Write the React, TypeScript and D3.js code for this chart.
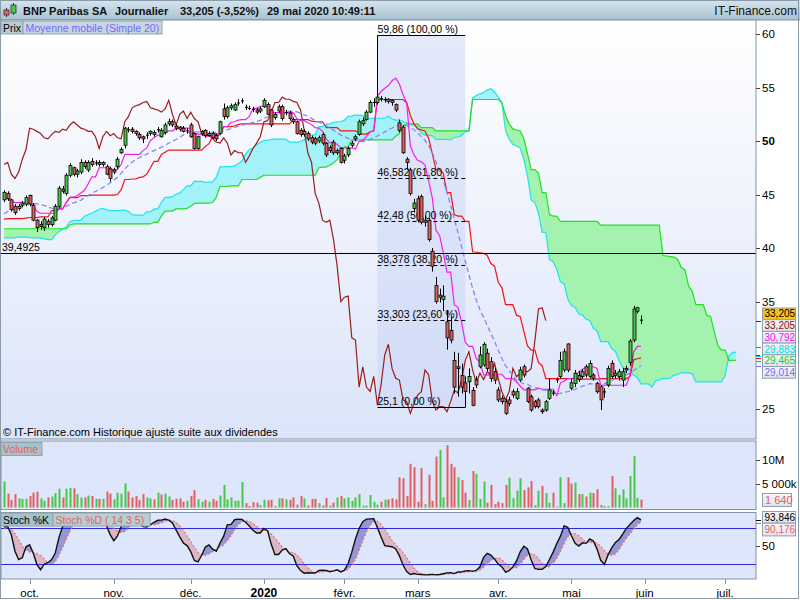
import React from "react";
import * as d3 from "d3";

// sessions before 20 sept. 2019, only used to warm up Ichimoku / SMA / stochastic : [high, low, close]
const warmup: number[][] = [
  [42.0, 41.2, 41.6], [42.1, 41.3, 41.9], [42.4, 41.6, 42.2], [42.6, 41.9, 42.0], [42.3, 41.4, 41.6],
  [41.9, 41.0, 41.3], [41.7, 40.8, 41.5], [42.2, 41.3, 42.0], [42.5, 41.7, 42.3], [42.7, 42.0, 42.1],
  [42.3, 41.5, 41.7], [42.0, 41.2, 41.8], [42.4, 41.6, 42.2], [42.8, 42.0, 42.6], [43.1, 42.3, 42.9],
  [43.2, 42.5, 42.7], [42.9, 42.2, 42.4], [42.7, 41.9, 42.5], [43.0, 42.2, 42.8], [43.4, 42.6, 43.2],
  [43.6, 42.9, 43.1], [43.3, 42.5, 42.8], [43.0, 42.3, 42.6], [43.2, 42.4, 43.0], [43.5, 42.8, 43.3],
  [43.8, 43.0, 43.6], [44.0, 43.2, 43.5], [43.7, 42.9, 43.1], [43.4, 42.6, 43.2], [43.9, 43.0, 43.7],
  [44.2, 43.4, 44.0], [44.3, 43.6, 43.8], [44.1, 43.3, 43.9], [44.6, 43.7, 44.3], [44.4, 43.5, 43.7],
  [43.9, 43.0, 43.2], [43.5, 42.6, 42.9], [43.2, 42.1, 42.4], [42.7, 41.7, 41.9], [42.3, 41.3, 42.0],
  [42.1, 40.9, 41.2], [41.6, 40.5, 40.8], [41.3, 40.2, 41.0], [41.5, 40.4, 40.6], [41.0, 39.8, 40.1],
  [40.6, 39.5, 39.9], [40.5, 39.4, 40.3], [41.0, 40.0, 40.8], [41.2, 40.2, 40.4], [40.8, 39.7, 39.9],
  [40.3, 39.2, 39.5], [39.9, 39.0, 39.6], [40.4, 39.4, 40.2], [40.8, 39.9, 40.5], [41.0, 40.1, 40.6],
  [41.2, 40.3, 41.0], [41.5, 40.6, 40.8], [41.1, 40.1, 40.4], [40.9, 40.0, 40.7], [41.0, 40.1, 40.7],
  [41.3, 40.2, 41.0], [41.5, 40.3, 40.9], [41.4, 40.2, 41.2], [41.7, 40.4, 41.5], [41.8, 40.6, 41.4],
  [42.0, 40.3, 41.9], [42.9, 41.9, 42.7], [43.5, 42.5, 43.3], [43.9, 43.0, 43.6], [44.3, 43.3, 44.0],
  [45.3, 43.6, 45.0], [45.5, 44.5, 45.2], [45.4, 44.3, 44.6], [45.0, 44.0, 44.3], [44.8, 43.8, 44.6],
  [44.9, 44.1, 44.4], [44.7, 43.9, 44.1], [44.6, 43.8, 44.4],
];

// visible sessions, 20 sept. 2019 -> 29 mai 2020 : [open, high, low, close]
const candles: number[][] = [
  [44.5, 45.4, 44.3, 45.2], [45.1, 45.3, 44.4, 44.6], [44.5, 44.6, 43.4, 43.6], [43.9, 44.1, 43.1, 43.3],
  [43.7, 44.1, 43.5, 43.9], [44.0, 44.4, 43.8, 44.2], [44.1, 44.9, 43.9, 44.7], [44.9, 45.0, 43.9, 44.1],
  [44.0, 44.2, 42.5, 42.6], [42.6, 42.7, 41.5, 41.9], [42.0, 42.5, 41.7, 42.2], [41.9, 42.9, 41.6, 42.7],
  [42.5, 42.7, 41.9, 42.2], [42.2, 43.0, 42.0, 42.8], [42.6, 44.1, 42.5, 43.9], [43.9, 45.8, 43.7, 45.6],
  [45.5, 45.8, 45.1, 45.3], [45.1, 47.0, 44.9, 46.8], [46.8, 47.9, 46.6, 47.7], [47.5, 47.6, 46.7, 46.9],
  [46.9, 47.4, 46.6, 47.2], [47.1, 48.3, 46.9, 48.0], [48.0, 48.2, 47.4, 47.6], [47.3, 48.2, 47.1, 48.0],
  [48.1, 48.4, 47.6, 47.8], [47.9, 48.2, 47.7, 48.0], [48.0, 48.2, 47.6, 47.8], [47.8, 48.1, 47.6, 48.0],
  [47.6, 47.8, 46.8, 46.9], [47.4, 47.6, 46.2, 46.5], [47.3, 47.5, 46.9, 47.1], [47.6, 48.5, 47.4, 48.3],
  [48.9, 49.4, 48.8, 49.2], [49.6, 51.3, 49.3, 51.2], [51.0, 51.3, 50.8, 51.1], [51.1, 51.3, 50.7, 50.9],
  [50.9, 51.0, 50.5, 50.7], [50.6, 50.8, 50.1, 50.3], [50.4, 50.5, 49.8, 50.2], [50.5, 50.8, 50.2, 50.6],
  [50.7, 51.0, 50.5, 50.9], [50.6, 51.0, 50.4, 50.8], [51.0, 51.3, 50.8, 51.1], [50.4, 51.2, 50.3, 51.0],
  [50.8, 51.7, 50.6, 51.5], [51.6, 52.1, 51.4, 51.8], [51.8, 52.0, 51.3, 51.5], [51.4, 51.6, 51.0, 51.2],
  [51.3, 51.4, 50.9, 51.1], [51.2, 51.4, 50.8, 50.9], [51.0, 51.2, 50.7, 50.9], [51.5, 51.7, 50.3, 50.4],
  [50.7, 50.8, 49.2, 49.3], [49.3, 50.5, 49.2, 50.4], [50.7, 51.0, 50.5, 50.9], [51.0, 51.1, 50.3, 50.5],
  [50.5, 50.9, 50.4, 50.7], [50.7, 50.9, 50.2, 50.3], [50.5, 50.7, 50.0, 50.2], [50.7, 51.9, 50.6, 51.8],
  [53.0, 53.5, 52.0, 52.3], [52.3, 53.3, 52.1, 53.1], [53.1, 53.5, 52.9, 53.3], [52.9, 53.6, 52.8, 53.4],
  [53.5, 53.9, 53.3, 53.6], [53.8, 54.0, 53.5, 53.7], [53.2, 53.4, 52.9, 53.1], [53.1, 53.3, 52.9, 53.0],
  [53.0, 53.2, 52.7, 52.9], [52.9, 53.1, 52.5, 52.7], [52.8, 53.2, 52.6, 53.0], [53.2, 54.0, 53.1, 53.8],
  [53.4, 53.6, 52.4, 52.5], [52.9, 53.0, 51.3, 51.5], [52.2, 52.7, 52.0, 52.5], [53.2, 53.4, 52.6, 52.8],
  [53.2, 53.4, 51.9, 52.1], [52.6, 52.9, 52.4, 52.7], [52.6, 52.8, 51.9, 52.1], [52.0, 52.2, 51.6, 51.8],
  [51.8, 51.9, 50.6, 50.7], [51.0, 51.2, 50.4, 50.6], [50.9, 51.1, 50.4, 50.6], [50.7, 50.9, 50.0, 50.2],
  [50.3, 50.5, 49.7, 49.9], [50.2, 50.4, 49.6, 49.8], [50.0, 50.5, 49.8, 50.3], [50.6, 50.8, 49.6, 49.8],
  [49.8, 49.9, 48.5, 48.7], [49.4, 49.6, 48.9, 49.1], [49.9, 50.1, 48.7, 48.9], [49.1, 49.3, 48.7, 48.9],
  [49.3, 49.4, 47.9, 48.0], [48.2, 48.8, 47.9, 48.6], [48.7, 49.5, 48.5, 49.3], [49.6, 50.0, 49.4, 49.8],
  [50.2, 50.6, 50.0, 50.4], [50.6, 52.0, 50.5, 51.8], [51.6, 52.2, 51.4, 51.9], [52.0, 52.9, 51.9, 52.7],
  [52.7, 53.8, 52.6, 53.6], [53.6, 54.0, 53.2, 53.6], [53.6, 59.86, 53.4, 54.1], [54.0, 54.2, 53.7, 53.9],
  [53.8, 54.1, 53.6, 53.9], [53.9, 54.0, 53.5, 53.7], [53.8, 53.9, 53.3, 53.6], [53.4, 53.5, 52.7, 52.9],
  [51.7, 52.0, 50.8, 51.0], [51.3, 51.5, 48.8, 48.9], [48.3, 48.5, 47.3, 48.0], [47.3, 47.5, 44.9, 45.1],
  [43.7, 44.6, 43.3, 44.2], [44.6, 44.9, 42.4, 42.6], [44.8, 45.0, 42.2, 42.4], [42.4, 43.0, 42.0, 42.6],
  [42.6, 42.8, 40.6, 40.8], [39.7, 40.0, 37.8, 38.3], [36.5, 37.3, 34.8, 35.0], [35.6, 36.2, 34.9, 35.4],
  [35.2, 36.5, 34.1, 35.5], [33.1, 34.2, 30.5, 31.6], [32.3, 33.6, 31.1, 31.4], [29.5, 30.3, 26.4, 27.0],
  [28.75, 30.2, 26.1, 28.9], [28.1, 29.2, 26.4, 27.0], [27.4, 28.0, 25.1, 26.6], [27.5, 28.75, 26.4, 28.0],
  [26.7, 27.0, 25.2, 25.3], [27.66, 28.0, 26.9, 27.2], [28.9, 30.8, 28.75, 30.0], [29.07, 31.2, 28.9, 31.0],
  [30.16, 30.6, 28.5, 28.75], [29.38, 29.8, 27.5, 27.82], [28.44, 28.8, 27.3, 27.66], [26.73, 27.0, 25.6, 25.8],
  [25.95, 26.2, 25.4, 25.64], [25.64, 25.9, 24.4, 24.55], [25.8, 26.1, 25.2, 25.48], [26.57, 26.8, 26.0, 26.26],
  [25.95, 26.9, 25.8, 26.57], [27.66, 28.9, 27.5, 28.6], [28.9, 29.1, 27.9, 28.13], [26.9, 27.0, 25.5, 25.64],
  [26.1, 26.3, 24.7, 24.86], [25.64, 25.8, 25.0, 25.17], [25.8, 26.0, 25.0, 25.17], [24.86, 25.0, 24.5, 24.7],
  [24.86, 25.8, 24.7, 25.64], [25.95, 27.8, 25.8, 26.73], [26.4, 26.7, 26.2, 26.45], [27.66, 27.9, 27.4, 27.7],
  [28.0, 30.3, 27.8, 29.5], [28.6, 30.6, 28.4, 30.3], [31.03, 31.1, 28.4, 28.6], [26.9, 27.8, 26.7, 27.4],
  [27.35, 28.6, 27.0, 28.3], [28.1, 28.5, 27.5, 27.7], [27.98, 28.7, 27.8, 28.44], [28.9, 29.1, 27.9, 28.13],
  [28.0, 29.5, 27.8, 29.2], [28.13, 28.3, 27.6, 27.82], [27.35, 27.5, 26.4, 26.57], [27.04, 27.2, 24.85, 25.8],
  [26.5, 26.9, 26.0, 26.6], [27.2, 29.0, 27.0, 28.75], [29.2, 29.5, 27.8, 27.98], [28.1, 28.6, 27.8, 28.3],
  [27.98, 28.7, 27.6, 28.44], [27.66, 28.8, 27.0, 28.44], [28.6, 29.0, 28.3, 28.75], [29.3, 31.5, 29.0, 31.3],
  [31.4, 34.6, 31.2, 34.3], [34.1, 34.5, 33.9, 34.42], [33.3, 33.7, 32.9, 33.205],
];

// volumes, millions of shares
const volumes: number[] = [
  5.4, 2.9, 1.6, 2.8, 1.9, 1.8, 1.8, 2.4, 3.1, 3.3, 1.9, 1.4, 2.1, 2.3, 3.0, 3.9, 2.1, 3.9, 4.1, 4.0,
  2.8, 2.1, 2.1, 2.5, 2.4, 1.8, 1.8, 1.8, 3.3, 2.9, 1.7, 3.1, 2.9, 5.0, 3.3, 2.1, 2.4, 1.6, 2.8, 2.1,
  1.9, 1.7, 3.1, 2.7, 2.9, 2.3, 1.6, 1.8, 1.9, 1.2, 1.4, 2.4, 3.6, 1.7, 1.2, 1.6, 1.2, 1.8, 1.4, 2.5,
  4.7, 1.7, 2.1, 1.4, 1.4, 5.3, 0.9, 0.3, 1.1, 1.0, 0.5, 1.6, 1.5, 1.6, 0.3, 1.9, 1.9, 1.7, 1.6, 2.1,
  0.6, 2.4, 1.9, 0.4, 1.8, 1.8, 0.9, 0.4, 2.0, 0.4, 1.0, 2.1, 2.4, 1.9, 2.1, 1.4, 2.1, 2.8, 0.4, 0.4,
  2.6, 1.2, 0.6, 1.2, 1.6, 1.7, 1.9, 1.7, 6.3, 6.1, 2.4, 9.1, 8.4, 1.2, 8.2, 0.7, 6.8, 1.4, 10.6, 12.0,
  2.1, 13.0, 9.1, 8.4, 6.3, 5.7, 3.1, 1.6, 7.6, 7.0, 1.8, 5.4, 1.0, 4.7, 0.7, 1.2, 0.9, 4.7, 6.2, 2.0,
  3.5, 6.1, 3.6, 4.2, 5.5, 0.5, 3.5, 4.5, 3.0, 1.0, 3.1, 0.2, 6.3, 0.9, 6.3, 5.0, 5.2, 2.8, 2.8, 2.3,
  3.1, 3.0, 3.8, 0.5, 0.3, 0.3, 6.6, 4.0, 2.6, 3.8, 1.9, 6.6, 10.7, 2.0, 1.64,
];

const monthLabels = ["oct.", "nov.", "déc.", "2020", "févr.", "mars", "avr.", "mai", "juin", "juil."];
const monthStarts = [7, 30, 51, 71, 93, 113, 135, 155, 175, 197];
const priceTicks = [60, 55, 50, 45, 40, 35, 30, 25];

const fibValues = [59.86, 46.582, 42.48, 38.378, 33.303, 25.1];
const fibLabels = ["59,86 (100,00 %)", "46,582 (61,80 %)", "42,48 (50,00 %)", "38,378 (38,20 %)", "33,303 (23,60 %)", "25,1 (0,00 %)"];
const fibFrom = 102;
const fibTo = 126;
const supportLevel = 39.4925;

const lastValues = [33.205, 33.205, 30.792, 29.883, 29.465, 29.014];
const lastTexts = ["33,205", "33,205", "30,792", "29,883", "29,465", "29,014"];
const lastColors = ["#000000", "#8b0f0f", "#ff00ff", "#00dce8", "#22c822", "#6d6dff"];

const FONT = "Liberation Sans, Arial, sans-serif";
const GREEN = "#46c846";
const RED = "#e35f5f";

type HL = { h: number; l: number; c: number };
const series: HL[] = [
  ...warmup.map(d => ({ h: d[0], l: d[1], c: d[2] })),
  ...candles.map(d => ({ h: d[1], l: d[2], c: d[3] })),
];
const off = warmup.length;

function midRange(end: number, n: number) {
  const s = series.slice(Math.max(0, end - n + 1), end + 1);
  return ((d3.max(s, d => d.h) as number) + (d3.min(s, d => d.l) as number)) / 2;
}

const idx = d3.range(candles.length);
const tenkan = idx.map(i => midRange(off + i, 9));
const kijun = idx.map(i => midRange(off + i, 26));
const sma20 = idx.map(i => d3.mean(series.slice(off + i - 19, off + i + 1), d => d.c) as number);
type Cloud = { j: number; a: number; b: number };
const cloud: Cloud[] = d3.range(-26, candles.length).map(s => ({
  j: s + 26,
  a: (midRange(off + s, 9) + midRange(off + s, 26)) / 2,
  b: midRange(off + s, 52),
}));
const chikou = idx.filter(i => i >= 26).map(i => ({ j: i - 26, c: candles[i][3] }));

// Stochastique 14 / 3 / 5
const raw = series.map((d, k) => {
  if (k < 13) return NaN;
  const s = series.slice(k - 13, k + 1);
  const hh = d3.max(s, e => e.h) as number;
  const ll = d3.min(s, e => e.l) as number;
  return (100 * (d.c - ll)) / (hh - ll);
});
const slowK = raw.map((_, k) => (k < 15 ? NaN : (d3.mean(raw.slice(k - 2, k + 1)) as number)));
const slowD = slowK.map((_, k) => (k < 19 ? NaN : (d3.mean(slowK.slice(k - 4, k + 1)) as number)));
type St = { i: number; k: number; d: number };
const stoch: St[] = idx.map(i => ({ i, k: slowK[off + i], d: slowD[off + i] }));

const x = d3.scaleLinear().domain([0, 174]).range([4, 641]);
const yP = d3.scaleLinear().domain([25, 60]).range([408.5, 34]);
const yV = d3.scaleLinear().domain([0, 10]).range([507.5, 459.5]);
const yS = d3.scaleLinear().domain([0, 100]).range([576, 516]);

const MAIN = { x0: 1, x1: 756, y0: 20, y1: 439 };
const VOL = { y0: 441, y1: 509.5 };
const STO = { y0: 512.5, y1: 579 };

export default function App() {
  const areaAB = d3.area<Cloud>().x(d => x(d.j)).y0(d => yP(d.a)).y1(d => yP(d.b));
  const aboveB = d3.area<Cloud>().x(d => x(d.j)).y0(MAIN.y0).y1(d => yP(d.b));
  const belowB = d3.area<Cloud>().x(d => x(d.j)).y0(d => yP(d.b)).y1(MAIN.y1);
  const lineA = d3.line<Cloud>().x(d => x(d.j)).y(d => yP(d.a));
  const lineB = d3.line<Cloud>().x(d => x(d.j)).y(d => yP(d.b));
  const lineIdx = (arr: number[]) => d3.line<number>().x((_, i) => x(i)).y(v => yP(v))(arr) as string;
  const lineChikou = d3.line<{ j: number; c: number }>().x(d => x(d.j)).y(d => yP(d.c));

  const areaKD = d3.area<St>().x(d => x(d.i)).y0(d => yS(d.k)).y1(d => yS(d.d));
  const aboveD = d3.area<St>().x(d => x(d.i)).y0(STO.y0).y1(d => yS(d.d));
  const belowD = d3.area<St>().x(d => x(d.i)).y0(d => yS(d.d)).y1(STO.y1);
  const lineK = d3.line<St>().x(d => x(d.i)).y(d => yS(d.k));
  const lineD = d3.line<St>().x(d => x(d.i)).y(d => yS(d.d));

  const fx0 = x(fibFrom);
  const fx1 = x(fibTo);
  // the value boxes are stacked downward from the close, one row each
  const boxH = 11.7;
  const boxTop = (k: number) => 308 + k * boxH;

  return (
    <svg width={800} height={600} style={{ position: "absolute", left: 0, top: 0 }} fontFamily={FONT}>
      <defs>
        <linearGradient id="hdr" x1="0" y1="0" x2="0" y2="1">
          <stop offset="0" stopColor="#d5e5ee" />
          <stop offset="1" stopColor="#a8c2d1" />
        </linearGradient>
        <linearGradient id="mainBg" x1="0" y1="0" x2="0" y2="1">
          <stop offset="0" stopColor="#ffffff" />
          <stop offset="1" stopColor="#dbe4f9" />
        </linearGradient>
        <linearGradient id="boxBg" x1="0" y1="0" x2="0" y2="1">
          <stop offset="0" stopColor="#f6f7fb" />
          <stop offset="1" stopColor="#dfe2ec" />
        </linearGradient>
        <clipPath id="clipMain">
          <rect x={MAIN.x0} y={MAIN.y0} width={MAIN.x1 - MAIN.x0} height={MAIN.y1 - MAIN.y0} />
        </clipPath>
        <clipPath id="clipAbove"><path d={aboveB(cloud) as string} /></clipPath>
        <clipPath id="clipBelow"><path d={belowB(cloud) as string} /></clipPath>
        <clipPath id="clipKup"><path d={aboveD(stoch) as string} /></clipPath>
        <clipPath id="clipKdn"><path d={belowD(stoch) as string} /></clipPath>
      </defs>

      <rect x={0} y={0} width={800} height={600} fill="#ffffff" />

      {/* header */}
      <rect x={0} y={0} width={800} height={20} fill="url(#hdr)" />
      <line x1={0} x2={800} y1={20} y2={20} stroke="#7f95a3" />
      <g>
        <line x1={6.5} x2={6.5} y1={8} y2={17} stroke="#333" />
        <rect x={4} y={10} width={5} height={5} fill={RED} stroke="#333" strokeWidth={0.8} />
        <line x1={13.5} x2={13.5} y1={3} y2={15} stroke="#333" />
        <rect x={11} y={5} width={5} height={8} fill={GREEN} stroke="#333" strokeWidth={0.8} />
      </g>
      <g fontSize={11} fontWeight="bold" fill="#111">
        <text x={23} y={15}>BNP Paribas SA</text>
        <text x={115} y={15}>Journalier</text>
        <text x={180} y={15}>33,205 (-3,52%)</text>
        <text x={267} y={15}>29 mai 2020 10:49:11</text>
      </g>
      <text x={797} y={15} fontSize={12} textAnchor="end" fill="#111">IT-Finance.com</text>

      {/* main panel */}
      <rect x={MAIN.x0} y={MAIN.y0} width={MAIN.x1 - MAIN.x0} height={MAIN.y1 - MAIN.y0} fill="url(#mainBg)" />
      <g clipPath="url(#clipMain)">
        <rect x={fx0} y={yP(59.86)} width={fx1 - fx0} height={yP(25.1) - yP(59.86)} fill="#c3d1f3" opacity={0.45} />
        <path d={areaAB(cloud) as string} fill="#a3f2f7" clipPath="url(#clipAbove)" />
        <path d={areaAB(cloud) as string} fill="#a3f2ad" clipPath="url(#clipBelow)" />
        <path d={lineA(cloud) as string} fill="none" stroke="#1fe3ee" strokeWidth={1.2} />
        <path d={lineB(cloud) as string} fill="none" stroke="#22e022" strokeWidth={1.2} />
        <path d={lineChikou(chikou) as string} fill="none" stroke="#9a1d1d" strokeWidth={1.2} />
        <path d={lineIdx(kijun)} fill="none" stroke="#f21414" strokeWidth={1.2} />
        <path d={lineIdx(sma20)} fill="none" stroke="#8585f5" strokeWidth={1.3} strokeDasharray="5,3" />
        <path d={lineIdx(tenkan)} fill="none" stroke="#f020f0" strokeWidth={1.2} />

        <line x1={MAIN.x0} x2={MAIN.x1} y1={Math.round(yP(supportLevel)) + 0.5} y2={Math.round(yP(supportLevel)) + 0.5} stroke="#000" />
        <text x={2} y={yP(supportLevel) - 2.5} fontSize={10.5} fill="#000">39,4925</text>

        {fibValues.map((v, k) => {
          const yy = Math.round(yP(v)) + 0.5;
          const solid = k === 0 || k === fibValues.length - 1;
          return (
            <g key={k}>
              <line x1={fx0} x2={fx1} y1={yy} y2={yy} stroke="#000" strokeDasharray={solid ? undefined : "4,3"} />
              <text x={fx0} y={yy - 2.5} fontSize={10.5} fill="#000">{fibLabels[k]}</text>
            </g>
          );
        })}

        {candles.map((d, i) => {
          const cx = Math.round(x(i)) + 0.5;
          const [o, h, l, c] = d;
          const top = yP(Math.max(o, c));
          const bot = yP(Math.min(o, c));
          return (
            <g key={i}>
              <line x1={cx} x2={cx} y1={yP(h)} y2={yP(l)} stroke="#000" />
              {bot - top < 1.3 ? (
                <line x1={cx - 1.5} x2={cx + 1.5} y1={(top + bot) / 2} y2={(top + bot) / 2} stroke="#000" />
              ) : (
                <rect x={cx - 1.5} y={top} width={3} height={bot - top} fill={c >= o ? GREEN : RED} stroke="#000" strokeWidth={0.8} />
              )}
            </g>
          );
        })}
      </g>
      <rect x={MAIN.x0 - 0.5} y={MAIN.y0} width={MAIN.x1 - MAIN.x0 + 0.5} height={MAIN.y1 - MAIN.y0} fill="none" stroke="#7f95a3" />

      {/* legend of the price panel */}
      <rect x={1} y={21} width={22} height={13} fill="#b7cbd3" stroke="#8ea4ae" />
      <text x={3} y={31.5} fontSize={10.5} fill="#000">Prix</text>
      <rect x={23} y={21} width={139} height={13} fill="#c9d6de" stroke="#8ea4ae" />
      <text x={25.5} y={31.5} fontSize={10.5} fill="#6c6cff">Moyenne mobile (Simple 20)</text>
      <text x={3} y={436} fontSize={11} fill="#000">© IT-Finance.com  Historique ajusté suite aux dividendes</text>

      {/* price axis */}
      {priceTicks.map(t => (
        <g key={t}>
          <line x1={756} x2={760} y1={Math.round(yP(t)) + 0.5} y2={Math.round(yP(t)) + 0.5} stroke="#444" />
          {t !== 30 && (
            <text x={762} y={yP(t) + 4} fontSize={11.5} fontWeight={t === 50 ? "bold" : "normal"} fill="#000">{t}</text>
          )}
        </g>
      ))}
      {lastValues.map((v, k) => (
        <line key={"m" + k} x1={756} x2={761} y1={Math.round(yP(v)) + 0.5} y2={Math.round(yP(v)) + 0.5} stroke={lastColors[k]} />
      ))}
      <line x1={756} x2={761} y1={Math.round(yP(kijun[kijun.length - 1])) + 0.5} y2={Math.round(yP(kijun[kijun.length - 1])) + 0.5} stroke="#f21414" />
      {lastTexts.map((t, k) => (
        <g key={"b" + k}>
          <rect x={762.5} y={boxTop(k)} width={33} height={boxH} fill={k === 0 ? "#f7c21a" : "url(#boxBg)"} stroke="#8ea0ad" />
          <text x={764.5} y={boxTop(k) + 9.4} fontSize={10} fill={lastColors[k]}>{t}</text>
        </g>
      ))}

      {/* volume panel */}
      <rect x={1} y={VOL.y0} width={755} height={VOL.y1 - VOL.y0} fill="#dde6fa" stroke="#7f95a3" />
      {volumes.map((v, i) => {
        const up = i === 0 ? candles[0][3] >= candles[0][0] : candles[i][3] >= candles[i - 1][3];
        return (
          <rect key={i} x={Math.round(x(i)) - 0.5} y={yV(v)} width={2} height={yV(0) - yV(v)} fill={up ? GREEN : RED} />
        );
      })}
      <rect x={1} y={442.5} width={41} height={13} fill="#a9c1c9" stroke="#8ea4ae" />
      <text x={3} y={453} fontSize={10.5} fill="#e35f5f">Volume</text>
      {[10, 5].map(v => (
        <g key={v}>
          <line x1={756} x2={760} y1={Math.round(yV(v)) + 0.5} y2={Math.round(yV(v)) + 0.5} stroke="#444" />
          <text x={762} y={yV(v) + 4} fontSize={11.5} fill="#000">{v === 10 ? "10M" : "5 000k"}</text>
        </g>
      ))}
      <rect x={762.5} y={493.5} width={29} height={13} fill="url(#boxBg)" stroke="#8ea0ad" />
      <text x={765} y={504} fontSize={11} fill="#e35f5f">1 640</text>

      {/* stochastic panel */}
      <rect x={1} y={STO.y0} width={755} height={STO.y1 - STO.y0} fill="#dde6fa" stroke="#7f95a3" />
      <path d={areaKD(stoch) as string} fill="#9595da" clipPath="url(#clipKup)" />
      <path d={areaKD(stoch) as string} fill="#dcb6c4" clipPath="url(#clipKdn)" />
      <line x1={1} x2={756} y1={Math.round(yS(80)) + 0.5} y2={Math.round(yS(80)) + 0.5} stroke="#2a2ae0" />
      <line x1={1} x2={756} y1={Math.round(yS(20)) + 0.5} y2={Math.round(yS(20)) + 0.5} stroke="#2a2ae0" />
      <path d={lineD(stoch) as string} fill="none" stroke="#e8706e" strokeWidth={1.2} strokeDasharray="2,2" />
      <path d={lineK(stoch) as string} fill="none" stroke="#111" strokeWidth={1.4} />
      <rect x={1} y={513} width={52} height={13} fill="#a9c1c9" stroke="#8ea4ae" />
      <text x={3} y={523.5} fontSize={10.5} fill="#000">Stoch %K</text>
      <rect x={53} y={513} width={97} height={13} fill="#b9cdd5" stroke="#8ea4ae" />
      <text x={55.5} y={523.5} fontSize={10.5} fill="#e35f5f">Stoch %D ( 14 3 5)</text>
      <line x1={756} x2={760} y1={Math.round(yS(50)) + 0.5} y2={Math.round(yS(50)) + 0.5} stroke="#444" />
      <text x={762} y={yS(50) + 4} fontSize={11.5} fill="#000">50</text>
      <line x1={756} x2={761} y1={Math.round(yS(stoch[174].k)) + 0.5} y2={Math.round(yS(stoch[174].k)) + 0.5} stroke="#000" />
      <line x1={756} x2={761} y1={Math.round(yS(stoch[174].d)) + 1.5} y2={Math.round(yS(stoch[174].d)) + 1.5} stroke="#e35f5f" />
      <rect x={762.5} y={511.5} width={33} height={boxH} fill="url(#boxBg)" stroke="#8ea0ad" />
      <text x={764.5} y={520.9} fontSize={10} fill="#000">93,846</text>
      <rect x={762.5} y={511.5 + boxH} width={33} height={boxH + 1} fill="url(#boxBg)" stroke="#8ea0ad" />
      <text x={764.5} y={511.5 + boxH + 9.6} fontSize={10} fill="#e35f5f">90,176</text>

      {/* time axis */}
      {monthStarts.map((m, k) => (
        <g key={k}>
          <line x1={Math.round(x(m)) + 0.5} x2={Math.round(x(m)) + 0.5} y1={579} y2={584} stroke="#7f95a3" />
          <text x={x(m)} y={597} fontSize={k === 3 ? 12 : 11.5} fontWeight={k === 3 ? "bold" : "normal"} textAnchor="middle" fill="#000">
            {monthLabels[k]}
          </text>
        </g>
      ))}
      <rect x={0.5} y={0.5} width={798} height={598} fill="none" stroke="#8a9caa" />
    </svg>
  );
}
